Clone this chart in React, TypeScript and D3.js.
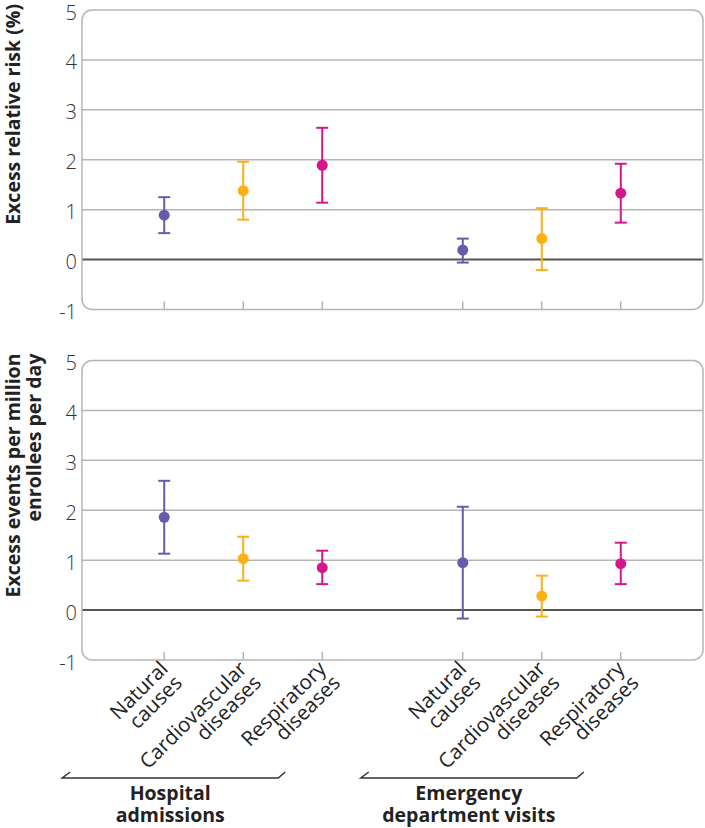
import React from "react";
import * as d3 from "d3";

const groups = ["Hospital admissions", "Emergency department visits"];
const groupLines = [["Hospital", "admissions"], ["Emergency", "department visits"]];
const categories = ["Natural causes", "Cardiovascular diseases", "Respiratory diseases"];
const categoryLines = [["Natural", "causes"], ["Cardiovascular", "diseases"], ["Respiratory", "diseases"]];
const colors = ["#6a5aaa", "#fbb017", "#d6168c"];
const yTicks = [-1, 0, 1, 2, 3, 4, 5];

// Excess relative risk (%) — order: HA natural, cardio, resp, ED natural, cardio, resp
const rrEst = [0.89, 1.38, 1.89, 0.19, 0.42, 1.33];
const rrLow = [0.53, 0.8, 1.14, -0.06, -0.21, 0.74];
const rrHigh = [1.25, 1.96, 2.64, 0.42, 1.03, 1.92];

// Excess events per million enrollees per day
const exEst = [1.86, 1.03, 0.85, 0.95, 0.28, 0.93];
const exLow = [1.13, 0.59, 0.52, -0.17, -0.13, 0.52];
const exHigh = [2.59, 1.47, 1.19, 2.07, 0.69, 1.35];

const W = 705;
const H = 828;
const left = 82;
const right = 703;

const font = "'Open Sans', 'DejaVu Sans', sans-serif";

const gx = d3.scalePoint<string>().domain(groups).range([left, right]).padding(0.54);
const cx = d3.scalePoint<string>().domain(categories).range([-79, 79]);

function xOf(i: number) {
  const g = groups[Math.floor(i / 3)];
  const c = categories[i % 3];
  return (gx(g) as number) + (cx(c) as number);
}

type PanelProps = { top: number; bottom: number; est: number[]; low: number[]; high: number[] };

function Panel({ top, bottom, est, low, high }: PanelProps) {
  const y = d3.scaleLinear().domain([-1, 5]).range([bottom, top]);
  const idx = d3.range(est.length);
  return (
    <g>
      {yTicks.filter((t) => t !== 5 && t !== -1 && t !== 0).map((t) => (
        <line key={"g" + t} x1={left} x2={right} y1={y(t)} y2={y(t)} stroke="#b5b5b5" strokeWidth={1.5} />
      ))}
      <line x1={left} x2={right} y1={y(0)} y2={y(0)} stroke="#555" strokeWidth={2} />
      <rect x={left} y={top} width={right - left} height={bottom - top} rx={10} ry={10} fill="none" stroke="#b5b5b5" strokeWidth={1.5} />
      {yTicks.map((t) => (
        <text key={"t" + t} x={77} y={y(t) + 2} textAnchor="end" dominantBaseline="central" fontFamily={font} fontWeight={300} fontSize={20} fill="#333">
          {t}
        </text>
      ))}
      {idx.map((i) => (
        <line key={"tk" + i} x1={xOf(i)} x2={xOf(i)} y1={bottom - 8} y2={bottom} stroke="#b5b5b5" strokeWidth={1.5} />
      ))}
      {idx.map((i) => {
        const x = xOf(i);
        const c = colors[i % 3];
        return (
          <g key={"p" + i}>
            <line x1={x} x2={x} y1={y(low[i])} y2={y(high[i])} stroke={c} strokeWidth={2} />
            <line x1={x - 6} x2={x + 6} y1={y(low[i])} y2={y(low[i])} stroke={c} strokeWidth={2} />
            <line x1={x - 6} x2={x + 6} y1={y(high[i])} y2={y(high[i])} stroke={c} strokeWidth={2} />
            <circle cx={x} cy={y(est[i])} r={5.5} fill={c} />
          </g>
        );
      })}
    </g>
  );
}

export default function App() {
  const top1 = 10, bot1 = 309.5, top2 = 360.5, bot2 = 660;
  return (
    <svg width={W} height={H} style={{ position: "absolute", left: 0, top: 0, background: "#fff" }}>
      <Panel top={top1} bottom={bot1} est={rrEst} low={rrLow} high={rrHigh} />
      <Panel top={top2} bottom={bot2} est={exEst} low={exLow} high={exHigh} />

      <text transform={`translate(20, ${top1 - 6}) rotate(-90)`} textAnchor="end" fontFamily={font} fontWeight={700} fontSize={19.5} fill="#222">
        Excess relative risk (%)
      </text>
      <text transform={`translate(20, ${top2 - 7}) rotate(-90)`} textAnchor="end" fontFamily={font} fontWeight={700} fontSize={19.5} fill="#222">
        Excess events per million
      </text>
      <text transform={`translate(41, ${top2 - 7}) rotate(-90)`} textAnchor="end" fontFamily={font} fontWeight={700} fontSize={19.5} fill="#222">
        enrollees per day
      </text>

      {d3.range(6).map((i) => {
        const x = xOf(i);
        const lines = categoryLines[i % 3];
        return (
          <text key={"xl" + i} transform={`translate(${x + 5}, 670) rotate(-45)`} textAnchor="end" fontFamily={font} fontSize={20.5} fill="#222">
            <tspan x={0} dy={0}>{lines[0]}</tspan>
            <tspan x={0} dy={20}>{lines[1]}</tspan>
          </text>
        );
      })}

      {groups.map((g, gi) => {
        const c = gx(g) as number;
        const x0 = c - 181;
        const x1 = c + 35;
        const yb = 778;
        return (
          <g key={"b" + gi}>
            <path d={`M${x0 + 8},${yb - 6} L${x0},${yb} L${x1},${yb} L${x1 + 7},${yb - 6}`} fill="none" stroke="#333" strokeWidth={1.5} />
            <text x={(x0 + x1) / 2} y={800} textAnchor="middle" fontFamily={font} fontWeight={700} fontSize={19.5} fill="#222">
              <tspan x={(x0 + x1) / 2} dy={0}>{groupLines[gi][0]}</tspan>
              <tspan x={(x0 + x1) / 2} dy={22}>{groupLines[gi][1]}</tspan>
            </text>
          </g>
        );
      })}
    </svg>
  );
}
